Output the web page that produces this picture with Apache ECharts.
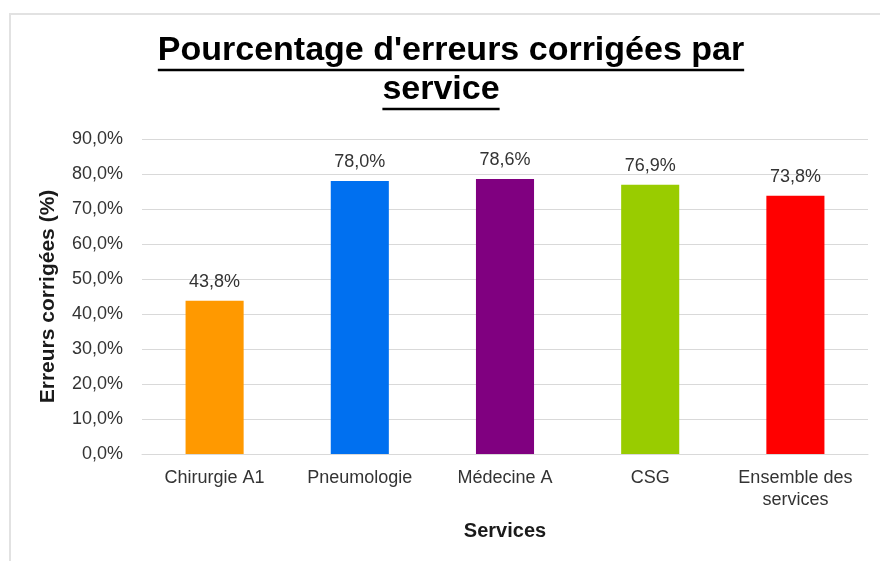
<!DOCTYPE html>
<html>
<head>
<meta charset="utf-8">
<script src="https://cdn.jsdelivr.net/npm/echarts@6/dist/echarts.min.js"></script>
<style>
  html, body { margin: 0; padding: 0; background: #fff; }
  #main { width: 880px; height: 561px; }
</style>
</head>
<body>
<div id="main"></div>
<script>
// data
const services = ['Chirurgie A1', 'Pneumologie', 'Médecine A', 'CSG', 'Ensemble des\nservices'];
const corrected = [43.8, 78.0, 78.6, 76.9, 73.8];
const barColors = ['#ff9900', '#0070f0', '#800080', '#99cc00', '#ff0000'];
const titleLines = ["Pourcentage d'erreurs corrigées par", 'service'];

const titleFont = "bold 34px 'Liberation Sans', Arial, sans-serif";
const fmt = v => v.toFixed(1).replace('.', ',') + '%';

// measure the title lines so the underline fits the text
const ctx = document.createElement('canvas').getContext('2d');
ctx.font = titleFont;
const titleX = [451, 441];
const titleY = [51, 90];

const graphic = [
    // light frame around the chart area
    {
        type: 'rect',
        shape: { x: 10, y: 14, width: 880, height: 560 },
        style: { fill: 'none', stroke: '#e2e2e2', lineWidth: 2 },
        silent: true
    }
];
titleLines.forEach((t, i) => {
    const w = ctx.measureText(t).width;
    graphic.push({
        type: 'text',
        x: titleX[i],
        y: titleY[i],
        style: {
            text: t,
            font: titleFont,
            fill: '#000',
            align: 'center',
            verticalAlign: 'middle'
        }
    });
    graphic.push({
        type: 'line',
        shape: { x1: titleX[i] - w / 2, y1: titleY[i] + 19, x2: titleX[i] + w / 2, y2: titleY[i] + 19 },
        style: { stroke: '#000', lineWidth: 2.5 }
    });
});

const chart = echarts.init(document.getElementById('main'));
chart.setOption({
    backgroundColor: '#fff',
    animation: false,
    textStyle: { fontFamily: "'Liberation Sans', Arial, sans-serif" },
    graphic,
    grid: { left: 142, right: 12, top: 139, bottom: 107 },
    xAxis: {
        type: 'category',
        data: services,
        name: 'Services',
        nameLocation: 'middle',
        nameGap: 67,
        nameTextStyle: { fontSize: 20, fontWeight: 'bold', color: '#1a1a1a' },
        axisLine: { lineStyle: { color: '#d9d9d9' } },
        axisTick: { show: false },
        axisLabel: { fontSize: 18, color: '#333', margin: 13, lineHeight: 22, interval: 0 }
    },
    yAxis: {
        type: 'value',
        min: 0,
        max: 90,
        interval: 10,
        name: 'Erreurs corrigées (%)',
        nameLocation: 'middle',
        nameGap: 83,
        nameTextStyle: { fontSize: 21, fontWeight: 'bold', color: '#1a1a1a' },
        axisLine: { show: false },
        axisTick: { show: false },
        axisLabel: { fontSize: 18, color: '#333', margin: 19, formatter: fmt },
        splitLine: { lineStyle: { color: '#d9d9d9' } }
    },
    series: [{
        type: 'bar',
        barWidth: '40%',
        data: corrected.map((v, i) => ({ value: v, itemStyle: { color: barColors[i] } })),
        label: {
            show: true,
            position: 'top',
            distance: 10,
            fontSize: 18,
            color: '#333',
            formatter: p => fmt(p.value)
        }
    }]
});
</script>
</body>
</html>
